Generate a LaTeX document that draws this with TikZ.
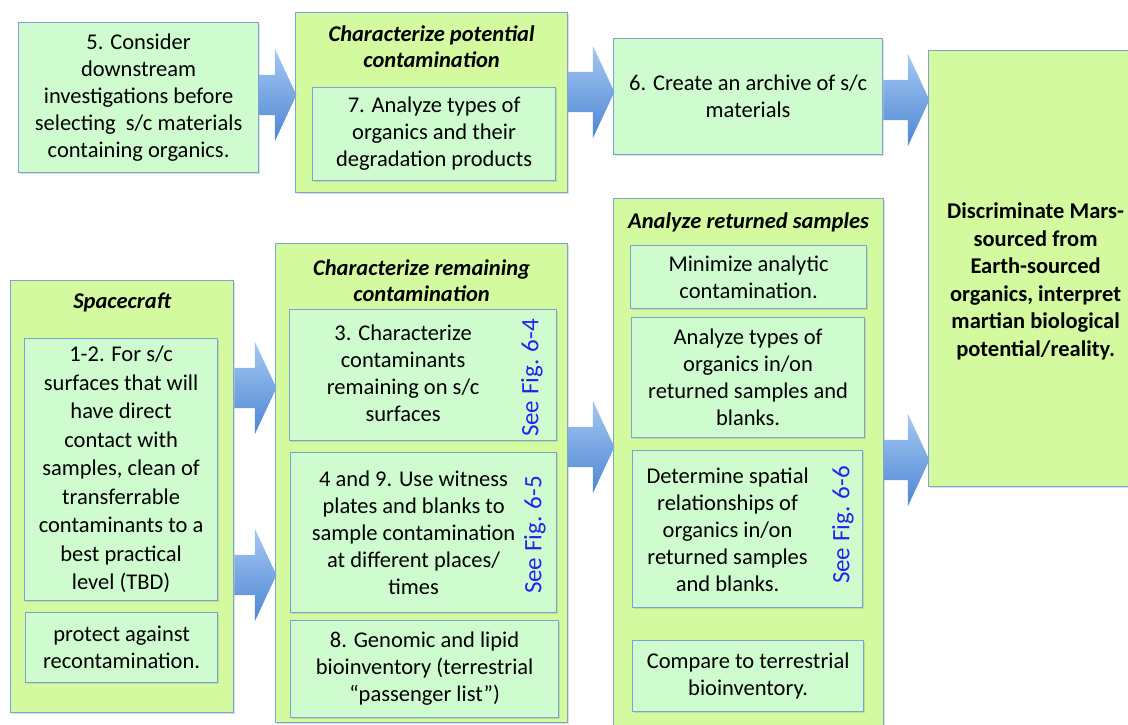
\documentclass[tikz,border=0pt]{standalone}
\usepackage{fontspec}
\setmainfont{Carlito}
\usepackage{tikz}
\usetikzlibrary{shapes,arrows,positioning,calc,shadows}

\definecolor{grpfill}{RGB}{212,250,160}
\definecolor{boxfill}{RGB}{206,252,206}
\definecolor{boxline}{RGB}{125,163,212}
\definecolor{arrtop}{RGB}{165,200,242}
\definecolor{arrbot}{RGB}{78,134,212}
\definecolor{figblue}{RGB}{35,35,240}

\begin{document}
\begin{tikzpicture}[x=1pt, y=-1pt,
        every node/.style={font=\fontsize{22.5}{27}\selectfont, align=center},
        groupbox/.style={rectangle, draw=boxline, line width=1.2pt, fill=grpfill, anchor=north west,
            drop shadow={shadow xshift=1.5pt, shadow yshift=-1.5pt, opacity=0.25}},
        itembox/.style={rectangle, draw=boxline, line width=1.2pt, fill=boxfill, anchor=north west,
            drop shadow={shadow xshift=1.5pt, shadow yshift=-1.5pt, opacity=0.25}},
        grouphead/.style={font=\fontsize{22.5}{26}\selectfont\bfseries\itshape, inner sep=0pt},
        figref/.style={font=\fontsize{25}{28}\selectfont, text=figblue, rotate=90, inner sep=0pt},
        bigarrow/.style={single arrow, anchor=tail, draw=none, top color=arrtop, bottom color=arrbot,
            single arrow head extend=26pt, single arrow tip angle=130, inner xsep=0pt, inner ysep=20pt}
    ]
    \useasboundingbox (0,0) rectangle (1128,725);

    % top row
    \node[itembox, minimum width=240pt, minimum height=150pt] (consider) at (18,22)
        {5. Consider\\downstream\\investigations before\\selecting\ \ s/c materials\\containing organics.};
    \node[groupbox, minimum width=272pt, minimum height=180pt] (cpot) at (295,12) {};
    \node[grouphead] (cpothead) at ($(cpot.north)+(0,35)$) {Characterize potential\\contamination};
    \node[itembox, minimum width=243pt, minimum height=93pt] (types) at (312,87)
        {7. Analyze types of\\organics and their\\degradation products};
    \node[itembox, minimum width=269pt, minimum height=116pt] (archive) at (613,38)
        {6. Create an archive of s/c\\materials};
    \node[groupbox, minimum width=206pt, minimum height=436pt] (discr) at (928,50) {};
    \node[font=\fontsize{22.5}{27.5}\selectfont\bfseries] (discrtxt) at ($(discr.center)+(4,13)$)
        {Discriminate Mars-\\sourced from\\Earth-sourced\\organics, interpret\\martian biological\\potential/reality.};

    % spacecraft
    \node[groupbox, minimum width=223pt, minimum height=432pt] (craft) at (10,280) {};
    \node[grouphead] (crafthead) at ($(craft.north)+(0,22)$) {Spacecraft};
    \node[itembox, minimum width=193pt, minimum height=262pt, font=\fontsize{22.5}{28.5}\selectfont] (clean) at (24,338)
        {1-2. For s/c\\surfaces that will\\have direct\\contact with\\samples, clean of\\transferrable\\contaminants to a\\best practical\\level (TBD)};
    \node[itembox, minimum width=192pt, minimum height=70pt] (protect) at (25,612)
        {protect against\\recontamination.};

    % remaining contamination
    \node[groupbox, minimum width=292pt, minimum height=479pt] (crem) at (275,243) {};
    \node[grouphead] (cremhead) at ($(crem.north)+(0,38)$) {Characterize remaining\\contamination};
    \node[itembox, minimum width=267pt, minimum height=131pt] (surf) at (289,309) {};
    \node (surftxt) at ($(surf.center)+(-20,-2)$) {3. Characterize\\contaminants\\remaining on s/c\\surfaces};
    \node[figref] (fig64) at (532,378) {See Fig. 6-4};
    \node[itembox, minimum width=266pt, minimum height=160pt] (witness) at (290,452) {};
    \node (witnesstxt) at ($(witness.center)+(-10,0)$) {4 and 9. Use witness\\plates and blanks to\\sample contamination\\at different places/\\times};
    \node[figref] (fig65) at (535,535) {See Fig. 6-5};
    \node[itembox, minimum width=268pt, minimum height=97pt] (genomic) at (290,620)
        {8. Genomic and lipid\\bioinventory (terrestrial\\``passenger list'')};

    % returned samples
    \node[groupbox, minimum width=270pt, minimum height=535pt] (aret) at (613,198) {};
    \node[grouphead] (arethead) at ($(aret.north)+(0,24)$) {Analyze returned samples};
    \node[itembox, minimum width=236pt, minimum height=63pt] (minim) at (630,245)
        {Minimize analytic\\contamination.};
    \node[itembox, minimum width=233pt, minimum height=120pt] (orgtypes) at (631,317)
        {Analyze types of\\organics in/on\\returned samples and\\blanks.};
    \node[itembox, minimum width=230pt, minimum height=157pt] (spatial) at (632,450) {};
    \node (spatialtxt) at ($(spatial.center)+(-20,1)$) {Determine spatial\\relationships of\\organics in/on\\returned samples\\and blanks.};
    \node[figref] (fig66) at (843,525) {See Fig. 6-6};
    \node[itembox, minimum width=231pt, minimum height=71pt] (compare) at (632,640)
        {Compare to terrestrial\\bioinventory.};

    % block arrows
    \node[bigarrow, minimum height=37pt] (a1) at (consider.east |- 0,95) {};
    \node[bigarrow, minimum height=46pt] (a2) at (cpot.east |- 0,92) {};
    \node[bigarrow, minimum height=46pt] (a3) at (archive.east |- 0,100) {};
    \node[bigarrow, minimum height=42pt] (a4) at (craft.east |- 0,388) {};
    \node[bigarrow, minimum height=42pt] (a5) at (craft.east |- 0,575) {};
    \node[bigarrow, minimum height=46pt] (a6) at (crem.east |- 0,447) {};
    \node[bigarrow, minimum height=45pt] (a7) at (aret.east |- 0,460) {};
\end{tikzpicture}
\end{document}
